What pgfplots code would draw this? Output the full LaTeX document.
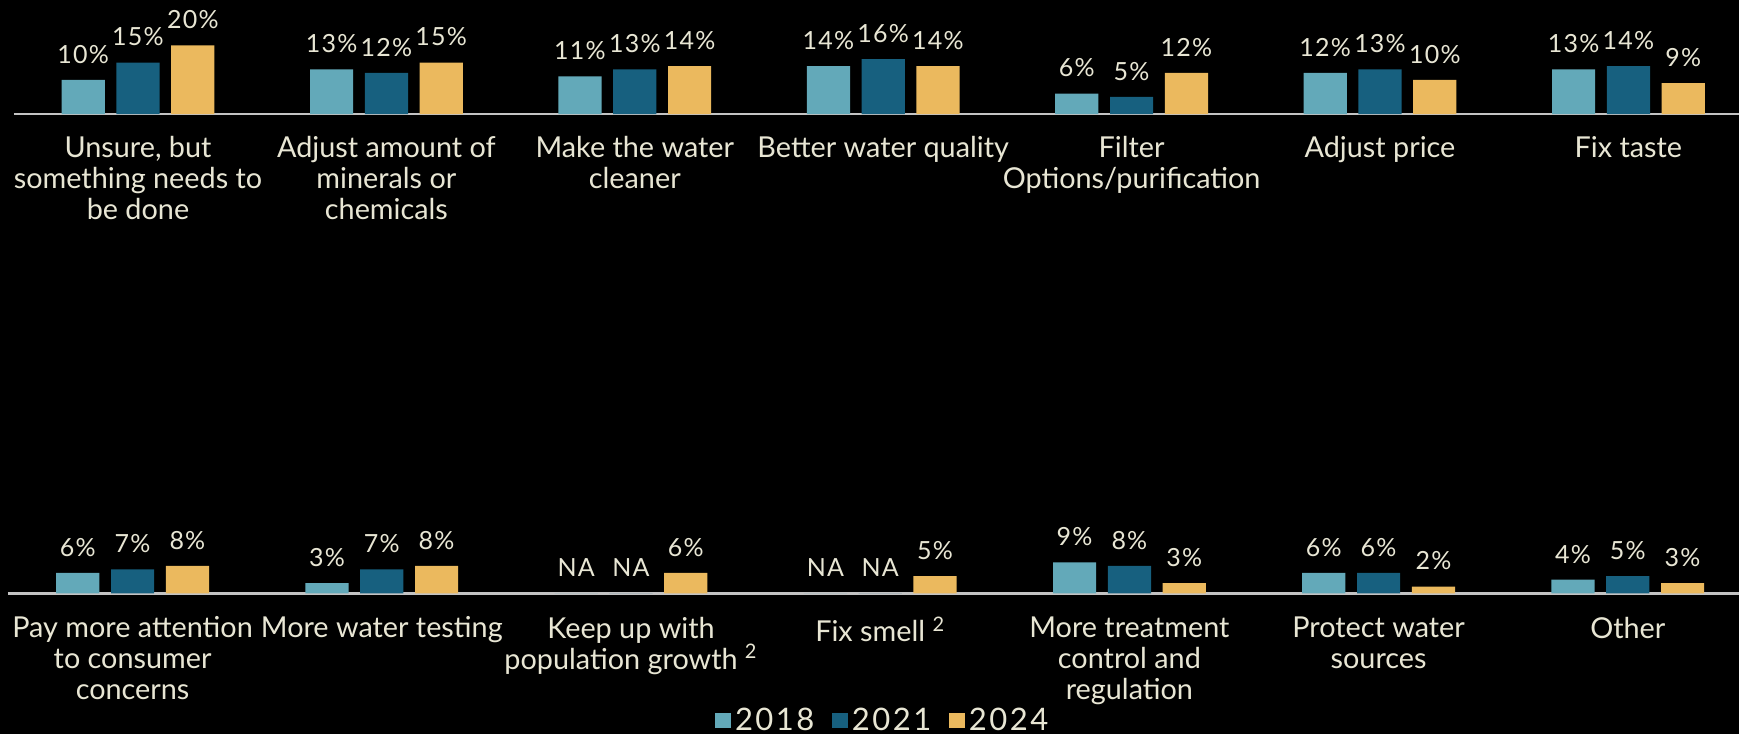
\documentclass[border=0pt]{standalone}
\usepackage{fontspec}
\setmainfont{Lato}
\newfontfamily\numfont{Lato}[LetterSpace=5]
\newfontfamily\legfont{Lato}[LetterSpace=8]
\usepackage{pgfplots}
\pgfplotsset{compat=1.18}
\definecolor{cA}{RGB}{99,169,185}
\definecolor{cB}{RGB}{23,96,127}
\definecolor{cC}{RGB}{235,185,94}
\definecolor{cream}{RGB}{232,230,212}
\definecolor{baseln}{RGB}{195,195,195}
\pgfplotsset{rowstyle/.style={
  scale only axis, clip=false,
  ymin=0, ymax=22, xmin=-0.5, y=1.72pt,
  axis x line=bottom, axis y line=none,
  x axis line style={-, draw=baseln, line width=1.1pt},
  xtick={0,...,6}, major tick length=0pt, xtick style={draw=none},
  x tick label style={font=\fontsize{14.4}{15.5}\selectfont, text=cream, align=center, anchor=north, inner sep=0pt, yshift=-10.7pt},
  ybar=5.8pt, bar width=21.6pt,
  nodes near coords={\pgfplotspointmeta}, point meta=explicit symbolic,
  every node near coord/.append style={font=\numfont\fontsize{12.5}{14}\selectfont, text=cream, anchor=base, yshift=8.3pt, inner sep=0pt},
  legend image code/.code={\fill[##1] (0pt,-3.9pt) rectangle (7.8pt,3.9pt);},
}}
\begin{document}
\begin{tikzpicture}
\useasboundingbox (0,0) rectangle (869.5pt,367pt);
\fill[black] (0,0) rectangle (869.5pt,367pt);
% top row
\begin{axis}[rowstyle, at={(6.9pt,309.9pt)}, anchor=south west,
  x=124.2pt, xmax=6.445,
  xticklabels={{Unsure, but\\something needs to\\be done},{Adjust amount of\\minerals or\\chemicals},{Make the water\\cleaner},{Better water quality},{Filter\\Options/purification},{Adjust price},{Fix taste}}]
\addplot[fill=cA, draw=none] coordinates {(0,10)[10\%] (1,13)[13\%] (2,11)[11\%] (3,14)[14\%] (4,6)[6\%] (5,12)[12\%] (6,13)[13\%]};
\addplot[fill=cB, draw=none] coordinates {(0,15)[15\%] (1,12)[12\%] (2,13)[13\%] (3,16)[16\%] (4,5)[5\%] (5,13)[13\%] (6,14)[14\%]};
\addplot[fill=cC, draw=none] coordinates {(0,20)[20\%] (1,15)[15\%] (2,14)[14\%] (3,14)[14\%] (4,12)[12\%] (5,10)[10\%] (6,9)[9\%]};
\end{axis}
% bottom row
\begin{axis}[rowstyle, at={(4.0pt,70.3pt)}, anchor=south west,
  x=124.6pt, xmax=6.446,
  x tick label style={yshift=-0.8pt},
  xticklabels={{Pay more attention\\to consumer\\concerns},{More water testing},{Keep up with\\population growth \textsuperscript{2}},{Fix smell \textsuperscript{2}},{More treatment\\control and\\regulation},{Protect water\\sources},{Other}},
  legend columns=3,
  legend style={at={(0.506,-1.68)}, anchor=center, draw=none, fill=none, text=cream,
    font=\legfont\fontsize{15.5}{17}\selectfont,
    nodes={inner xsep=2pt},
    /tikz/every even column/.append style={column sep=7pt}},
  ]
\addplot[fill=cA, draw=none] coordinates {(0,6)[6\%] (1,3)[3\%] (2,0)[NA] (3,0)[NA] (4,9)[9\%] (5,6)[6\%] (6,4)[4\%]};
\addplot[fill=cB, draw=none] coordinates {(0,7)[7\%] (1,7)[7\%] (2,0)[NA] (3,0)[NA] (4,8)[8\%] (5,6)[6\%] (6,5)[5\%]};
\addplot[fill=cC, draw=none] coordinates {(0,8)[8\%] (1,8)[8\%] (2,6)[6\%] (3,5)[5\%] (4,3)[3\%] (5,2)[2\%] (6,3)[3\%]};
\legend{2018,2021,2024}
\end{axis}
\end{tikzpicture}
\end{document}
